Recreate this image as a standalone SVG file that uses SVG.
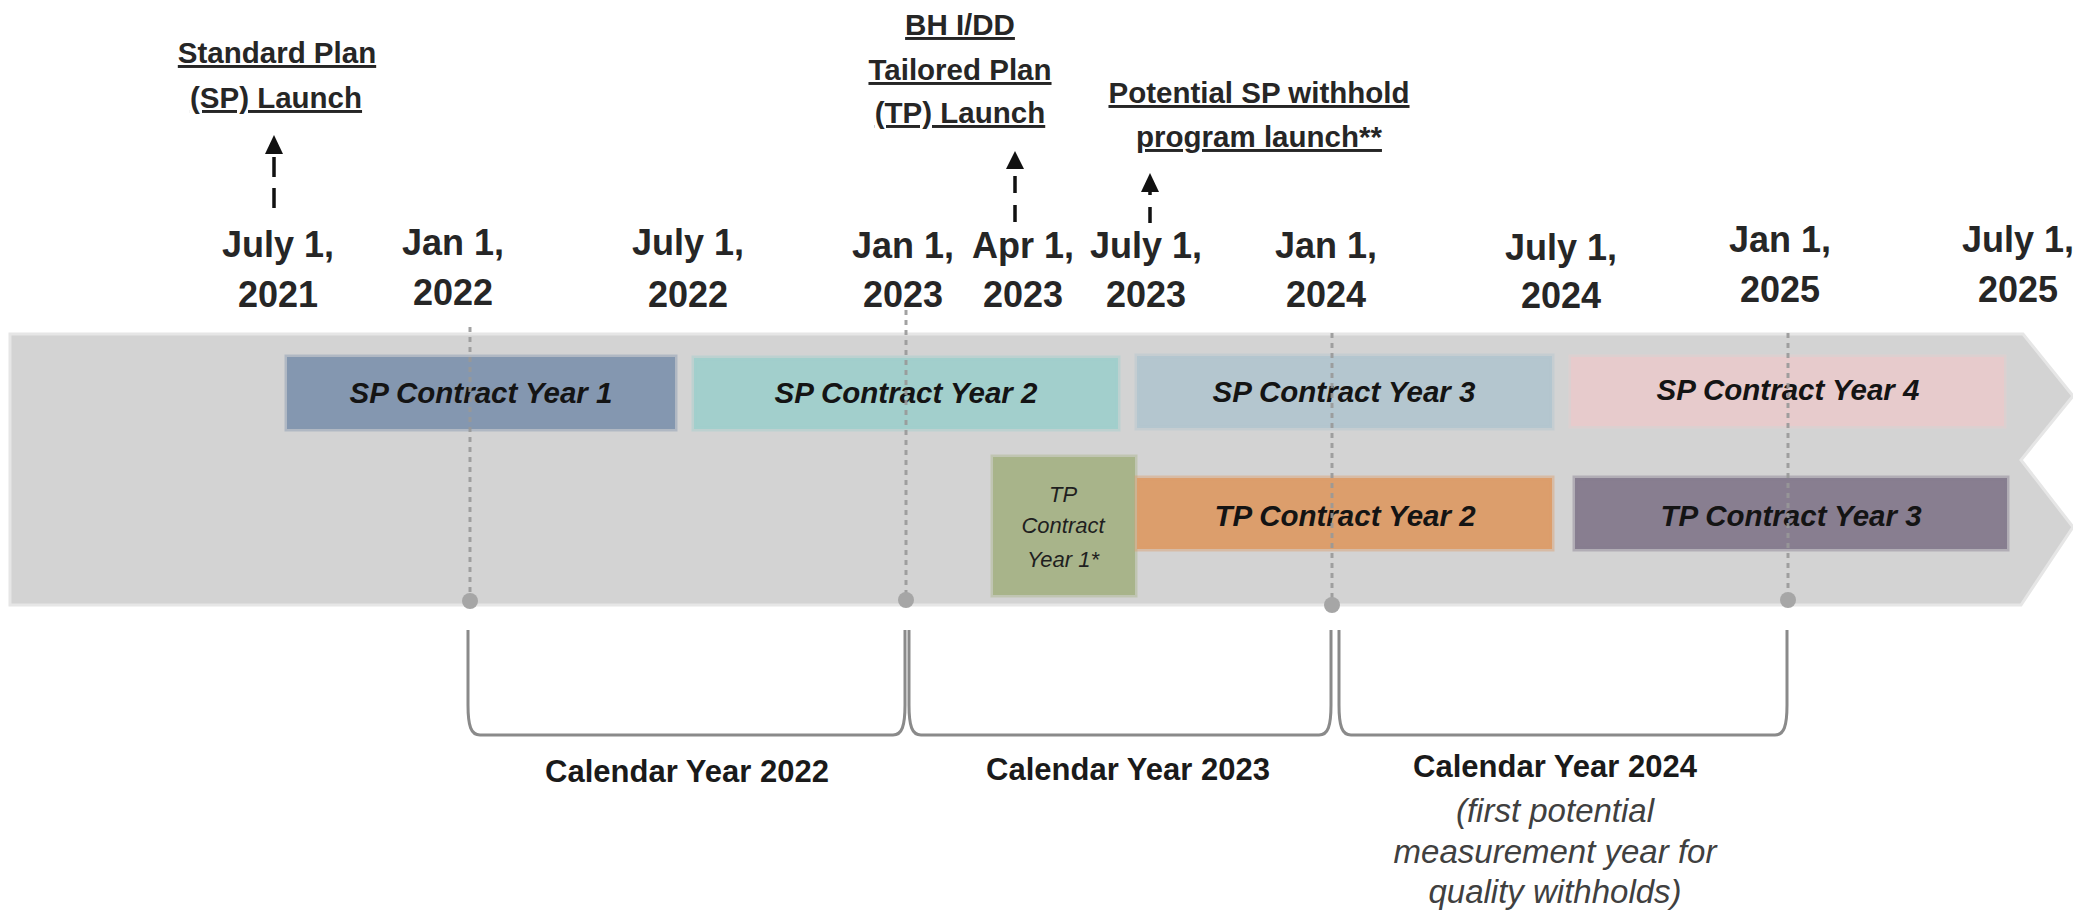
<svg xmlns="http://www.w3.org/2000/svg" width="2073" height="915" viewBox="0 0 2073 915">
<style>
  .date { font-family: "Liberation Sans", Arial, sans-serif; font-weight: bold; font-size: 36px; fill: #262626; text-anchor: middle; }
  .head { font-family: "Liberation Sans", Arial, sans-serif; font-weight: bold; font-size: 29.5px; fill: #262626; text-anchor: middle; text-decoration: underline; }
  .box { stroke-width: 5; stroke-opacity: 0.45; }
  .blabel { font-family: "Liberation Sans", Arial, sans-serif; font-weight: bold; font-style: italic; font-size: 29.5px; fill: #141414; text-anchor: middle; }
  .small { font-family: "Liberation Sans", Arial, sans-serif; font-style: italic; font-size: 22px; fill: #1f1f1f; text-anchor: middle; }
  .cal { font-family: "Liberation Sans", Arial, sans-serif; font-weight: bold; font-size: 31px; fill: #1a1a1a; text-anchor: middle; }
  .note { font-family: "Liberation Sans", Arial, sans-serif; font-style: italic; font-size: 33px; fill: #404040; text-anchor: middle; }
  .vline { stroke: #989898; stroke-width: 3; stroke-dasharray: 5 5; fill: none; opacity: 0.9; }
  .dot { fill: #a6a6a6; }
  .arrow { stroke: #111; stroke-width: 3.5; fill: none; }
  .ahead { fill: #111; }
  .bracket { stroke: #8a8a8a; stroke-width: 3; fill: none; }
</style>

<rect x="0" y="0" width="2073" height="915" fill="#ffffff"/>

<!-- timeline band -->
<g id="band">
  <polygon points="10,334 2023,334 2073,396 2021,460 2073,527 2021,605 10,605" fill="#d3d3d3" stroke="#e6e6e6" stroke-width="3"/>
</g>

<!-- contract year boxes -->
<g id="sp-cy1">
  <rect class="box" x="287" y="357" width="388" height="72" fill="#8497b0" stroke="#8497b0"/>
  <text class="blabel" x="481" y="403">SP Contract Year 1</text>
</g>
<g id="sp-cy2">
  <rect class="box" x="694" y="358" width="424" height="71" fill="#a2cfcc" stroke="#a2cfcc"/>
  <text class="blabel" x="906" y="403">SP Contract Year 2</text>
</g>
<g id="sp-cy3">
  <rect class="box" x="1137" y="356" width="415" height="72" fill="#b4c6cf" stroke="#b4c6cf"/>
  <text class="blabel" x="1344" y="402">SP Contract Year 3</text>
</g>
<g id="sp-cy4">
  <rect class="box" x="1571" y="357" width="433" height="69" fill="#e7cbcc" stroke="#e7cbcc"/>
  <text class="blabel" x="1788" y="400">SP Contract Year 4</text>
</g>
<g id="tp-cy1">
  <rect class="box" x="993" y="457" width="142" height="138" fill="#a8b48a" stroke="#a8b48a"/>
  <text class="small" x="1063" y="502">TP</text>
  <text class="small" x="1063" y="533">Contract</text>
  <text class="small" x="1063" y="567">Year 1*</text>
</g>
<g id="tp-cy2">
  <rect class="box" x="1137" y="478" width="415" height="71" fill="#dc9e6c" stroke="#dc9e6c"/>
  <text class="blabel" x="1345" y="526">TP Contract Year 2</text>
</g>
<g id="tp-cy3">
  <rect class="box" x="1575" y="478" width="432" height="71" fill="#887e90" stroke="#887e90"/>
  <text class="blabel" x="1791" y="526">TP Contract Year 3</text>
</g>

<!-- Jan 1 markers -->
<g id="markers">
  <line class="vline" x1="470" y1="327" x2="470" y2="600"/>
  <circle class="dot" cx="470" cy="601" r="8"/>
  <line class="vline" x1="906" y1="310" x2="906" y2="600"/>
  <circle class="dot" cx="906" cy="600" r="8"/>
  <line class="vline" x1="1332" y1="333" x2="1332" y2="604"/>
  <circle class="dot" cx="1332" cy="605" r="8"/>
  <line class="vline" x1="1788" y1="333" x2="1788" y2="600"/>
  <circle class="dot" cx="1788" cy="600" r="8"/>
</g>

<!-- date labels -->
<g id="dates">
  <g id="d-jul2021"><text class="date" x="278" y="257">July 1,</text><text class="date" x="278" y="307">2021</text></g>
  <g id="d-jan2022"><text class="date" x="453" y="255">Jan 1,</text><text class="date" x="453" y="305">2022</text></g>
  <g id="d-jul2022"><text class="date" x="688" y="255">July 1,</text><text class="date" x="688" y="307">2022</text></g>
  <g id="d-jan2023"><text class="date" x="903" y="258">Jan 1,</text><text class="date" x="903" y="307">2023</text></g>
  <g id="d-apr2023"><text class="date" x="1023" y="258">Apr 1,</text><text class="date" x="1023" y="307">2023</text></g>
  <g id="d-jul2023"><text class="date" x="1146" y="258">July 1,</text><text class="date" x="1146" y="307">2023</text></g>
  <g id="d-jan2024"><text class="date" x="1326" y="258">Jan 1,</text><text class="date" x="1326" y="307">2024</text></g>
  <g id="d-jul2024"><text class="date" x="1561" y="260">July 1,</text><text class="date" x="1561" y="308">2024</text></g>
  <g id="d-jan2025"><text class="date" x="1780" y="252">Jan 1,</text><text class="date" x="1780" y="302">2025</text></g>
  <g id="d-jul2025"><text class="date" x="2018" y="252">July 1,</text><text class="date" x="2018" y="302">2025</text></g>
</g>

<!-- launch headers -->
<g id="sp-launch">
  <text class="head" x="277" y="63">Standard Plan</text>
  <text class="head" x="276" y="108">(SP) Launch</text>
</g>
<g id="tp-launch">
  <text class="head" x="960" y="35">BH I/DD</text>
  <text class="head" x="960" y="80">Tailored Plan</text>
  <text class="head" x="960" y="123">(TP) Launch</text>
</g>
<g id="withhold-launch">
  <text class="head" x="1259" y="103">Potential SP withhold</text>
  <text class="head" x="1259" y="147">program launch**</text>
</g>

<!-- connectors -->
<g id="connectors">
  <line class="arrow" x1="274" y1="208" x2="274" y2="153" stroke-dasharray="20 11"/>
  <polygon class="ahead" points="274,135 283,154 265,154"/>
  <line class="arrow" x1="1015" y1="222" x2="1015" y2="168" stroke-dasharray="17 12"/>
  <polygon class="ahead" points="1015,151 1024,169 1006,169"/>
  <line class="arrow" x1="1150" y1="223" x2="1150" y2="190" stroke-dasharray="16 12"/>
  <polygon class="ahead" points="1150,173 1159,192 1141,192"/>
</g>

<!-- calendar year brackets -->
<g id="brackets">
  <path class="bracket" d="M468,630 L468,705 C468,726 471,735 480,735 L893,735 C902,735 905,726 905,705 L905,630"/>
  <path class="bracket" d="M909,630 L909,705 C909,726 912,735 921,735 L1319,735 C1328,735 1331,726 1331,705 L1331,630"/>
  <path class="bracket" d="M1339,630 L1339,705 C1339,726 1342,735 1351,735 L1775,735 C1784,735 1787,726 1787,705 L1787,630"/>
</g>

<g id="cy2022"><text class="cal" x="687" y="782">Calendar Year 2022</text></g>
<g id="cy2023"><text class="cal" x="1128" y="780">Calendar Year 2023</text></g>
<g id="cy2024">
  <text class="cal" x="1555" y="777">Calendar Year 2024</text>
  <text class="note" x="1555" y="822">(first potential</text>
  <text class="note" x="1555" y="863">measurement year for</text>
  <text class="note" x="1555" y="903">quality withholds)</text>
</g>
</svg>
